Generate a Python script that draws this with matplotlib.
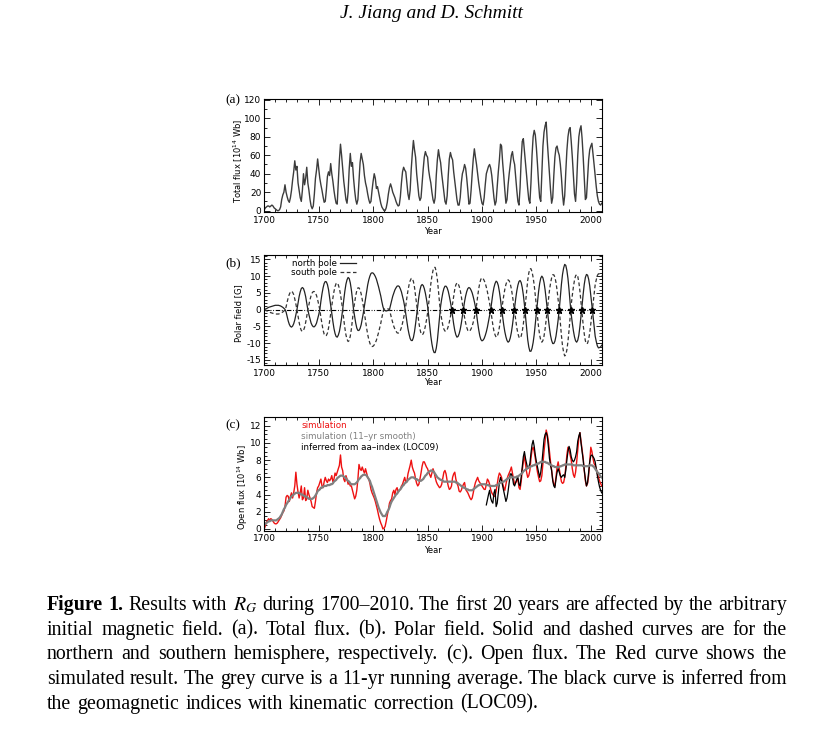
import numpy as np
import matplotlib
matplotlib.use("Agg")
import matplotlib.pyplot as plt
from matplotlib.ticker import MultipleLocator

plt.rcParams['font.family'] = ['DejaVu Sans']
plt.rcParams['axes.unicode_minus'] = False

# ---------------- data ----------------
years = np.arange(1700, 2011)

total_flux = [
    1, 3, 4, 5, 5, 4, 5, 6, 5, 3,
    2, 1, 0, 0, 1, 4, 12, 17, 20, 28,
    20, 15, 11, 9, 14, 22, 33, 42, 54, 44,
    48, 30, 22, 14, 10, 22, 40, 28, 35, 47,
    30, 22, 12, 5, 2, 5, 18, 35, 44, 56,
    45, 35, 28, 22, 15, 9, 10, 22, 37, 42,
    38, 51, 40, 32, 22, 14, 8, 7, 30, 55,
    72, 60, 46, 32, 22, 12, 8, 20, 45, 62,
    48, 52, 35, 22, 12, 7, 12, 32, 52, 62,
    56, 50, 38, 30, 25, 18, 12, 8, 10, 22,
    32, 40, 35, 24, 26, 20, 14, 8, 4, 2,
    0, 0, 3, 9, 18, 25, 29, 25, 20, 17,
    14, 10, 7, 5, 6, 15, 30, 42, 47, 44,
    42, 30, 18, 12, 22, 45, 62, 76, 66, 58,
    40, 28, 16, 11, 14, 30, 45, 58, 64, 60,
    58, 44, 36, 30, 20, 12, 8, 14, 38, 55,
    66, 58, 52, 40, 30, 20, 10, 7, 16, 38,
    56, 63, 58, 55, 42, 32, 22, 12, 6, 6,
    14, 30, 40, 44, 50, 46, 35, 22, 7, 8,
    22, 40, 56, 67, 58, 50, 40, 30, 22, 14,
    8, 6, 14, 28, 40, 44, 48, 50, 46, 38,
    26, 14, 6, 10, 26, 42, 55, 72, 70, 52,
    38, 22, 8, 12, 28, 40, 50, 60, 64, 55,
    50, 36, 22, 10, 6, 25, 55, 75, 78, 65,
    52, 38, 24, 12, 8, 30, 60, 80, 87, 82,
    68, 50, 30, 14, 10, 40, 70, 85, 92, 96,
    75, 58, 40, 22, 8, 14, 38, 58, 68, 70,
    64, 60, 50, 36, 18, 6, 16, 42, 65, 80,
    88, 90, 75, 58, 38, 18, 10, 30, 60, 80,
    88, 92, 78, 58, 35, 12, 14, 35, 55, 66,
    70, 73, 62, 50, 38, 26, 16, 10, 7, 6,
    8]

north_pole = [
    0, 0.2, 0.3, 0.5, 0.7, 0.8, 0.9, 1.0, 1.1, 1.2,
    1.3, 1.3, 1.3, 1.3, 1.2, 1.1, 0.9, 0.7, 0.4, 0.1,
    -0.7, -2.1, -3.4, -4.4, -5.0, -5.2, -4.9, -4.2, -3.1, -1.6,
    0, 2.0, 3.9, 5.3, 6.3, 6.6, 6.3, 5.3, 3.9, 2.0,
    0, -1.5, -2.8, -4.0, -4.7, -5.1, -5.1, -4.7, -4.0, -2.8,
    -1.5, 0, 2.5, 4.7, 6.5, 7.8, 8.4, 8.3, 7.5, 6.0,
    3.7, 1.3, -1.2, -3.5, -5.6, -7.1, -8.0, -8.2, -7.6, -6.5,
    -4.7, -2.5, 0, 2.9, 5.5, 7.6, 8.9, 9.6, 9.3, 8.0,
    5.9, 3.1, 0, -2.1, -4.0, -5.5, -6.2, -6.2, -5.6, -4.5,
    -2.8, -1.0, 1.1, 3.4, 5.5, 7.4, 8.9, 10.0, 10.8, 11.0,
    10.9, 10.5, 9.9, 9.1, 8.0, 6.8, 5.5, 4.1, 2.4, 0.9,
    -0.1, -0.3, -0.4, -0.3, -0.2, 0, 1.4, 2.7, 4.0, 5.0,
    5.9, 6.5, 7.0, 7.1, 6.9, 6.2, 5.3, 4.0, 2.6, 0.9,
    -1.2, -3.5, -5.7, -7.3, -8.6, -9.2, -9.2, -8.3, -6.6, -4.2,
    -1.5, 1.3, 3.8, 5.8, 7.1, 7.5, 7.2, 6.3, 4.9, 3.1,
    1.1, -1.7, -4.9, -7.9, -10.2, -11.9, -12.8, -12.8, -11.5, -9.2,
    -5.8, -2.1, 1.1, 3.2, 5.0, 6.3, 7.0, 7.0, 6.5, 5.5,
    4.0, 2.3, 0.4, -2.0, -4.3, -6.2, -7.5, -8.2, -8.0, -7.2,
    -5.9, -4.1, -1.9, 0.4, 2.4, 4.1, 5.4, 6.3, 6.6, 6.4,
    5.8, 5.0, 3.8, 2.4, 0.8, -1.3, -3.8, -6.0, -7.8, -8.9,
    -9.3, -9.1, -8.6, -7.7, -6.6, -5.2, -3.5, -1.9, 0, 2.5,
    4.8, 6.6, 7.8, 8.5, 8.2, 7.2, 5.4, 3.1, 0.3, -2.2,
    -4.6, -6.6, -8.1, -9.2, -9.7, -9.4, -8.4, -6.8, -4.6, -1.9,
    0.8, 3.3, 5.6, 7.3, 8.4, 8.7, 8.1, 6.6, 4.4, 1.5,
    -2.0, -5.6, -8.9, -11.1, -12.4, -12.4, -11.5, -9.8, -7.4, -4.3,
    -1.0, 2.3, 5.4, 7.8, 9.4, 10.0, 9.5, 8.1, 5.9, 3.1,
    0, -2.9, -5.5, -7.7, -9.2, -10.1, -10.1, -9.4, -7.9, -5.6,
    -3.0, 0, 3.9, 7.6, 10.5, 12.4, 13.5, 13.2, 11.7, 9.3,
    5.9, 2.0, -1.4, -4.0, -6.3, -8.1, -9.3, -9.7, -9.1, -7.6,
    -5.0, -1.9, 1.4, 4.7, 7.6, 9.6, 10.5, 10.3, 9.1, 7.1,
    4.3, 1.3, -1.8, -4.8, -7.9, -9.5, -10.8, -11.4, -11.3, -11.1,
    -10.6]

south_pole = [
    0, -0.2, -0.3, -0.5, -0.7, -0.8, -0.9, -1.0, -1.1, -1.2,
    -1.3, -1.3, -1.3, -1.3, -1.2, -1.1, -0.9, -0.7, -0.4, -0.1,
    0.8, 2.3, 3.6, 4.6, 5.3, 5.5, 5.2, 4.5, 3.2, 1.7,
    0, -2.0, -3.8, -5.3, -6.2, -6.5, -6.2, -5.3, -3.8, -2.0,
    0, 1.5, 3.0, 4.2, 5.0, 5.4, 5.4, 5.0, 4.2, 3.0,
    1.5, 0, -2.3, -4.3, -6.1, -7.3, -7.8, -7.7, -7.0, -5.5,
    -3.5, -1.2, 1.2, 3.4, 5.4, 6.9, 7.8, 8.0, 7.4, 6.3,
    4.6, 2.4, 0, -2.9, -5.4, -7.5, -8.8, -9.5, -9.2, -7.9,
    -5.8, -3.0, 0, 2.2, 4.2, 5.7, 6.5, 6.5, 5.9, 4.7,
    3.0, 1.1, -1.1, -3.4, -5.5, -7.4, -8.9, -10.0, -10.8, -11.0,
    -10.9, -10.5, -9.9, -9.1, -8.0, -6.8, -5.5, -4.1, -2.4, -0.9,
    0.1, 0.3, 0.4, 0.3, 0.2, 0, -1.4, -2.7, -3.9, -5.0,
    -5.8, -6.4, -6.9, -7.0, -6.8, -6.2, -5.3, -4.0, -2.5, -0.8,
    1.2, 3.6, 5.7, 7.4, 8.6, 9.3, 9.3, 8.4, 6.7, 4.2,
    1.5, -1.3, -3.8, -5.8, -7.1, -7.5, -7.2, -6.3, -4.9, -3.1,
    -1.1, 1.7, 4.8, 7.7, 10.0, 11.7, 12.6, 12.6, 11.3, 9.0,
    5.7, 2.0, -1.0, -2.9, -4.6, -5.8, -6.4, -6.4, -6.0, -5.0,
    -3.7, -2.1, -0.3, 1.9, 4.2, 6.1, 7.4, 8.0, 7.8, 7.0,
    5.8, 4.0, 1.8, -0.4, -2.3, -4.0, -5.3, -6.2, -6.5, -6.3,
    -5.7, -4.9, -3.7, -2.3, -0.8, 1.3, 3.9, 6.2, 8.0, 9.1,
    9.5, 9.3, 8.7, 7.9, 6.7, 5.3, 3.6, 1.9, 0, -2.4,
    -4.6, -6.4, -7.5, -8.2, -8.0, -7.0, -5.2, -3.0, -0.2, 2.0,
    4.2, 6.1, 7.5, 8.5, 8.9, 8.6, 7.7, 6.2, 4.2, 1.8,
    -0.8, -3.2, -5.4, -7.1, -8.2, -8.5, -7.9, -6.5, -4.3, -1.4,
    2.0, 5.5, 8.7, 10.9, 12.2, 12.2, 11.3, 9.6, 7.3, 4.2,
    1.0, -2.2, -5.2, -7.6, -9.1, -9.7, -9.2, -7.9, -5.7, -3.0,
    0, 2.9, 5.7, 7.9, 9.5, 10.4, 10.4, 9.7, 8.1, 5.8,
    3.0, 0, -4.0, -7.7, -10.8, -12.7, -13.8, -13.5, -12.0, -9.5,
    -6.1, -2.1, 1.5, 4.3, 6.8, 8.8, 10.1, 10.5, 9.9, 8.2,
    5.5, 2.1, -1.3, -4.6, -7.3, -9.3, -10.2, -10.0, -8.9, -6.9,
    -4.2, -1.2, 1.7, 4.5, 7.4, 8.9, 10.2, 10.7, 10.6, 10.4,
    10.0]

reversal_years = [1872.2, 1882.8, 1894.5, 1908.0, 1918.1, 1929.7, 1939.5,
                  1950.3, 1960.0, 1971.0, 1981.5, 1991.6, 2001.4]
reversal_field = [0, 0, 0, 0, 0, 0, 0, 0, 0, 0, 0, 0, 0]

open_flux_sim = [
    0.0, 0.4, 0.8, 1.0, 1.2, 1.0, 1.2, 1.1, 0.9, 0.7,
    0.6, 0.6, 0.7, 0.9, 1.1, 1.3, 1.6, 1.9, 2.1, 2.6,
    3.7, 3.9, 3.8, 3.2, 3.8, 4.2, 3.6, 4.2, 5.0, 6.6,
    5.2, 4.3, 3.6, 4.2, 5.0, 3.4, 3.6, 4.8, 3.3, 3.5,
    4.5, 4.0, 3.6, 3.2, 2.6, 2.5, 2.4, 3.2, 4.2, 4.8,
    5.0, 5.4, 5.8, 5.0, 4.8, 5.5, 6.0, 5.6, 5.4, 5.8,
    5.6, 5.8, 6.2, 5.5, 5.8, 6.5, 6.2, 6.6, 7.0, 7.4,
    8.6, 7.2, 6.8, 5.8, 5.5, 6.2, 5.8, 5.2, 5.4, 5.0,
    5.0, 4.5, 4.0, 3.5, 3.8, 4.5, 5.8, 7.5, 7.0, 6.8,
    7.2, 6.8, 6.5, 7.0, 6.5, 6.0, 5.8, 5.3, 4.6, 4.2,
    3.9, 3.6, 3.2, 2.7, 2.2, 1.6, 1.1, 0.7, 0.4, 0.0,
    0.1, 0.3, 0.9, 1.6, 2.2, 3.0, 3.3, 3.5, 4.2, 4.5,
    4.0, 4.6, 4.8, 4.3, 4.5, 4.6, 5.0, 5.2, 5.6, 6.0,
    5.4, 5.5, 6.4, 6.9, 7.4, 8.0, 7.2, 6.8, 6.5, 5.8,
    5.3, 5.0, 5.2, 5.8, 6.5, 7.3, 7.8, 7.8, 7.5, 7.2,
    7.0, 6.6, 6.3, 6.0, 6.5, 7.0, 6.6, 6.0, 5.5, 5.2,
    5.0, 4.8, 4.9, 5.2, 5.9, 6.6, 6.8, 6.4, 5.6, 5.0,
    4.6, 4.7, 5.0, 6.0, 6.4, 6.6, 5.8, 5.3, 5.0, 4.4,
    4.3, 4.5, 4.9, 5.2, 5.4, 4.6, 4.4, 4.2, 3.9, 3.6,
    3.4, 3.6, 4.2, 4.9, 5.4, 5.7, 6.0, 5.6, 5.4, 5.2,
    5.0, 4.8, 4.6, 4.6, 5.2, 5.8, 5.6, 5.2, 4.6, 4.2,
    4.0, 3.8, 3.8, 4.4, 5.2, 6.0, 6.5, 6.3, 6.0, 5.3,
    4.8, 4.5, 5.2, 5.8, 6.2, 6.5, 6.8, 7.2, 6.5, 5.8,
    5.2, 5.4, 5.6, 5.8, 4.8, 4.6, 5.5, 6.8, 7.8, 8.5,
    7.5, 6.6, 6.0, 6.2, 6.8, 8.2, 9.2, 9.5, 9.0, 8.2,
    7.4, 6.6, 6.0, 5.5, 5.6, 6.2, 7.6, 9.0, 10.2, 11.5,
    11.0, 10.2, 9.0, 7.8, 6.8, 5.8, 5.2, 5.0, 6.0, 7.2,
    7.8, 7.0, 6.2, 5.5, 5.3, 5.4, 6.0, 7.2, 8.6, 9.5,
    9.2, 8.6, 8.0, 7.0, 6.3, 6.0, 6.6, 7.8, 9.2, 10.6,
    11.2, 10.2, 9.2, 8.2, 6.8, 5.6, 5.0, 5.3, 6.2, 7.8,
    9.5, 9.0, 8.2, 7.6, 7.4, 7.0, 6.5, 6.0, 5.6, 5.3,
    5.0]

open_flux_smooth = [
    0.5, 0.6, 0.7, 0.8, 0.9, 0.9, 1.0, 1.0, 1.0, 1.0,
    1.0, 1.0, 1.1, 1.2, 1.3, 1.5, 1.7, 2.0, 2.3, 2.5,
    2.8, 3.0, 3.2, 3.4, 3.6, 3.8, 3.9, 4.0, 4.1, 4.2,
    4.2, 4.2, 4.2, 4.1, 4.0, 4.0, 3.9, 3.8, 3.8, 3.7,
    3.6, 3.5, 3.5, 3.5, 3.5, 3.6, 3.7, 3.9, 4.1, 4.4,
    4.5, 4.6, 4.8, 4.8, 4.9, 5.0, 5.0, 5.0, 5.1, 5.1,
    5.1, 5.2, 5.2, 5.3, 5.5, 5.6, 5.7, 5.9, 6.0, 6.1,
    6.2, 6.2, 6.2, 6.1, 6.0, 5.9, 5.7, 5.6, 5.5, 5.3,
    5.2, 5.2, 5.2, 5.2, 5.3, 5.4, 5.6, 5.8, 5.9, 6.1,
    6.2, 6.3, 6.3, 6.3, 6.2, 6.0, 5.8, 5.6, 5.2, 4.9,
    4.5, 4.1, 3.7, 3.3, 2.9, 2.5, 2.2, 1.9, 1.7, 1.5,
    1.5, 1.5, 1.7, 2.0, 2.2, 2.5, 2.9, 3.2, 3.4, 3.6,
    3.8, 4.0, 4.1, 4.3, 4.5, 4.6, 4.8, 5.0, 5.1, 5.3,
    5.4, 5.5, 5.7, 5.8, 5.9, 6.0, 6.0, 6.0, 5.9, 5.8,
    5.8, 5.7, 5.6, 5.6, 5.6, 5.7, 5.8, 6.0, 6.2, 6.3,
    6.5, 6.6, 6.7, 6.8, 6.8, 6.7, 6.6, 6.4, 6.2, 6.0,
    5.9, 5.8, 5.7, 5.7, 5.6, 5.5, 5.5, 5.5, 5.5, 5.5,
    5.5, 5.5, 5.5, 5.5, 5.5, 5.5, 5.4, 5.4, 5.3, 5.2,
    5.1, 5.0, 4.9, 4.8, 4.8, 4.7, 4.6, 4.6, 4.5, 4.5,
    4.5, 4.5, 4.6, 4.7, 4.8, 4.9, 5.0, 5.1, 5.1, 5.2,
    5.2, 5.2, 5.2, 5.2, 5.1, 5.1, 5.1, 5.0, 5.0, 5.0,
    5.0, 5.0, 5.0, 5.1, 5.1, 5.2, 5.3, 5.4, 5.4, 5.5,
    5.5, 5.6, 5.7, 5.8, 5.9, 5.9, 6.0, 6.0, 6.0, 6.0,
    6.0, 6.0, 6.1, 6.1, 6.2, 6.3, 6.4, 6.5, 6.7, 6.8,
    6.9, 7.0, 7.1, 7.2, 7.2, 7.3, 7.3, 7.4, 7.4, 7.5,
    7.5, 7.6, 7.6, 7.7, 7.8, 7.8, 7.8, 7.8, 7.8, 7.7,
    7.7, 7.6, 7.5, 7.5, 7.4, 7.3, 7.3, 7.2, 7.2, 7.2,
    7.2, 7.2, 7.3, 7.3, 7.4, 7.4, 7.5, 7.5, 7.5, 7.5,
    7.5, 7.5, 7.5, 7.5, 7.4, 7.4, 7.4, 7.4, 7.4, 7.4,
    7.4, 7.4, 7.4, 7.3, 7.3, 7.3, 7.3, 7.3, 7.3, 7.4,
    7.4, 7.4, 7.3, 7.2, 7.0, 6.8, 6.6, 6.5, 6.3, 6.1,
    6.0]

loc09_years = np.arange(1904, 2011)
open_flux_loc09 = [
    2.8, 3.4, 4.0, 4.5, 3.6, 3.2,
    3.0, 4.2, 4.6, 2.6, 3.0, 4.2, 5.4, 6.0, 5.6, 5.0,
    4.4, 3.8, 3.2, 3.6, 4.4, 5.4, 6.4, 6.4, 6.0, 5.2,
    5.0, 5.4, 5.8, 6.0, 5.2, 5.0, 6.0, 7.2, 8.4, 9.0,
    8.2, 7.6, 7.0, 7.2, 7.6, 8.8, 9.8, 10.3, 9.6, 8.6,
    7.8, 7.2, 6.6, 6.0, 6.6, 7.6, 9.0, 10.4, 11.0, 11.2,
    10.8, 9.6, 8.2, 7.4, 6.8, 5.6, 5.0, 4.8, 5.8, 6.6,
    7.0, 6.6, 6.2, 6.0, 6.2, 6.3, 6.0, 6.8, 8.0, 9.0,
    9.6, 9.2, 8.4, 8.0, 7.8, 8.0, 8.4, 9.0, 10.2, 10.8,
    11.2, 10.0, 9.0, 8.0, 6.8, 5.8, 5.0, 5.4, 6.6, 7.8,
    8.5, 8.6, 8.4, 8.2, 7.8, 7.0, 6.2, 5.5, 4.9, 4.5,
    4.2]

x_ticks_major, x_ticks_minor = 50, 10
legend_b = ["north pole", "south pole"]
legend_c = ["simulation", "simulation (11\u2013yr smooth)", "inferred from aa\u2013index (LOC09)"]

caption_lines = [
    "Results with $R_G$ during 1700\u20132010. The first 20 years are affected by the arbitrary",
    "initial magnetic field. (a). Total flux. (b). Polar field. Solid and dashed curves are for the",
    "northern and southern hemisphere, respectively. (c). Open flux. The Red curve shows the",
    "simulated result. The grey curve is a 11-yr running average. The black curve is inferred from",
    "the geomagnetic indices with kinematic correction (LOC09).",
]

# ---------------- figure ----------------
W, H = 828, 739
fig = plt.figure(figsize=(W / 100, H / 100), dpi=100)
fig.patch.set_facecolor('white')
renderer = fig.canvas.get_renderer()

AX_L, AX_R = 264.3, 601.7
TICK_FS = 6.5
LAB_FS = 6.0


def add_ax(top, bottom):
    return fig.add_axes([AX_L / W, 1 - bottom / H, (AX_R - AX_L) / W, (bottom - top) / H])


def style(ax, ymaj, ymin):
    ax.set_xlim(1700, 2010)
    ax.xaxis.set_major_locator(MultipleLocator(x_ticks_major))
    ax.xaxis.set_minor_locator(MultipleLocator(x_ticks_minor))
    ax.yaxis.set_major_locator(MultipleLocator(ymaj))
    ax.yaxis.set_minor_locator(MultipleLocator(ymin))
    ax.tick_params(which='both', direction='in', top=True, right=True,
                   labelsize=TICK_FS, width=0.6, colors='black')
    ax.tick_params(which='major', length=4)
    ax.tick_params(which='minor', length=2)
    ax.tick_params(axis='x', pad=2.6)
    ax.tick_params(axis='y', pad=2.2)
    for s in ax.spines.values():
        s.set_linewidth(0.8)


def labels(ax, ylab, xlab_off, ylab_x, ylab_y):
    ax.set_xlabel("Year", fontsize=LAB_FS)
    ax.set_ylabel(ylab, fontsize=LAB_FS)
    ax.xaxis.label.set_va('center')
    ax.yaxis.label.set_va('center')
    ax.xaxis.set_label_coords(0.5, xlab_off)
    ax.yaxis.set_label_coords(ylab_x, ylab_y)


# panel (a)
axa = add_ax(99, 212)
axa.plot(years[:len(total_flux)], total_flux, color='#3c3c3c', lw=1.0)
axa.set_ylim(-1.5, 121)
style(axa, 20, 10)
labels(axa, "Total flux [10$^{14}$ Wb]", -19.5 / 113, -0.077, 0.45)

# panel (b)
axb = add_ax(255, 365)
axb.axhline(0, color='k', lw=0.8, dashes=(4, 1.5, 0.8, 1.5, 0.8, 1.5))
ln, = axb.plot(years[:len(north_pole)], north_pole, color='#222222', lw=0.9, label=legend_b[0])
ls, = axb.plot(years[:len(south_pole)], south_pole, color='#333333', lw=0.9,
               dashes=(3, 2), label=legend_b[1])
axb.plot(reversal_years, reversal_field, linestyle='none', marker='*', ms=4.5,
         color='k', mec='k')
axb.set_ylim(-16.5, 16.3)
style(axb, 5, 1)
labels(axb, "Polar field [G]", -17.5 / 110, -0.077, 0.47)
axb.legend(handles=[ln, ls], loc='upper left', bbox_to_anchor=(0.079, 0.965),
           frameon=False, markerfirst=False, fontsize=6.3, handlelength=1.8,
           handletextpad=0.4, labelspacing=0.05, borderpad=0, borderaxespad=0)

# panel (c)
axc = add_ax(416.7, 530.7)
lr, = axc.plot(years[:len(open_flux_sim)], open_flux_sim, color='#ee1111', lw=1.0, label=legend_c[0])
lb, = axc.plot(loc09_years[:len(open_flux_loc09)], open_flux_loc09, color='black', lw=0.9, label=legend_c[2])
lg, = axc.plot(years[:len(open_flux_smooth)], open_flux_smooth, color='#808080', lw=1.6, label=legend_c[1])
axc.set_ylim(-0.2, 13.05)
style(axc, 2, 0.5)
labels(axc, "Open flux [10$^{14}$ Wb]", -20 / 114, -0.064, 0.38)
axc.legend(handles=[lr, lg, lb], loc='upper left', bbox_to_anchor=(0.109, 0.965),
           frameon=False, fontsize=6.3, handlelength=0, handletextpad=0,
           labelspacing=0.22, borderpad=0, borderaxespad=0, labelcolor='linecolor')

# panel letters
for lab, ypx in (("(a)", 100), ("(b)", 263), ("(c)", 425)):
    fig.text(233 / W, 1 - ypx / H, lab, family='Liberation Serif', fontsize=9.5,
             ha='center', va='center')

# header
hdr = fig.text(431.7 / W, 1 - 13 / H, "J. Jiang and D. Schmitt", family='Liberation Serif',
               style='italic', fontsize=14, ha='center', va='center')
wh = hdr.get_window_extent(renderer).width
hdr.set_fontsize(14 * 183.0 / wh)

# caption (justified)
CAP_L, CAP_R = 47.0, 787.0
baselines = [610.0, 634.7, 659.4, 684.1, 708.8]
fs0 = 14.0


def word_objs(line, first):
    words = []
    if first:
        words += [("Figure", 'bold'), ("1.", 'bold')]
    words += [(w, 'normal') for w in line.split()]
    objs = []
    for w, wt in words:
        t = fig.text(0, 0, w, family='Liberation Serif', fontweight=wt, fontsize=fs0,
                     math_fontfamily='stix', ha='left', va='baseline')
        objs.append(t)
    return objs


all_objs = [word_objs(l, i == 0) for i, l in enumerate(caption_lines)]
probe1 = fig.text(0, 0, "x x", family='Liberation Serif', fontsize=fs0)
probe2 = fig.text(0, 0, "xx", family='Liberation Serif', fontsize=fs0)
space_w = probe1.get_window_extent(renderer).width - probe2.get_window_extent(renderer).width
probe1.remove()
probe2.remove()

nat = []
for objs in all_objs[:-1]:
    ws = sum(o.get_window_extent(renderer).width for o in objs)
    nat.append(ws + space_w * (len(objs) - 1))
scale = (CAP_R - CAP_L - 2) / max(nat)
fs = fs0 * scale
space_w *= scale
for objs in all_objs:
    for o in objs:
        o.set_fontsize(fs)

for i, objs in enumerate(all_objs):
    widths = [o.get_window_extent(renderer).width for o in objs]
    if i < len(all_objs) - 1:
        gap = (CAP_R - CAP_L - sum(widths)) / (len(objs) - 1)
    else:
        gap = space_w * 1.2
    x = CAP_L
    for o, w in zip(objs, widths):
        o.set_position((x / W, 1 - baselines[i] / H))
        x += w + gap

fig.savefig("out.png", dpi=100, facecolor='white')
